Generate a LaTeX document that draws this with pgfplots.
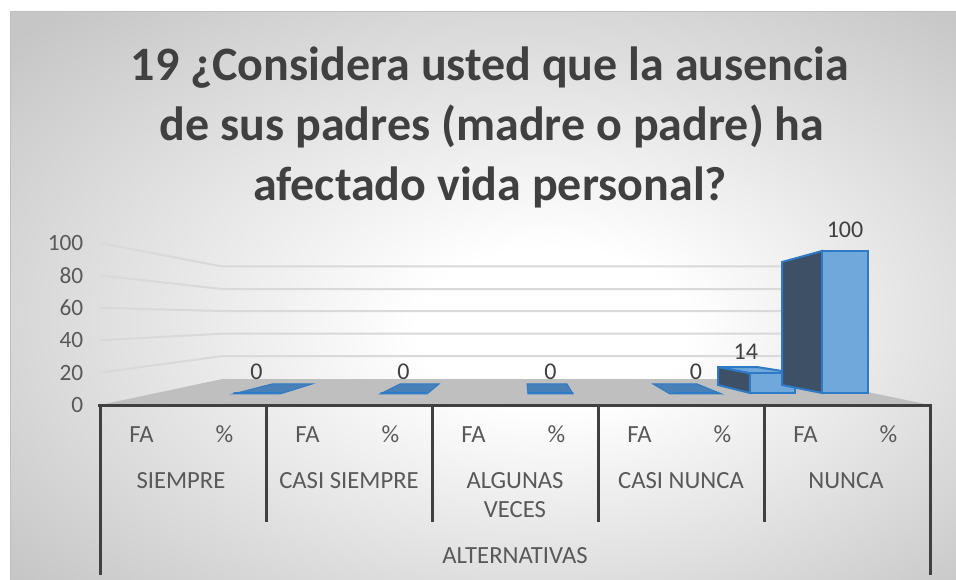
\documentclass[border=0pt]{standalone}
\usepackage{pgfplots}
\pgfplotsset{compat=1.18}
\usepackage{pgfplotstable}
\usepackage{fontspec}
\setmainfont{Carlito}
\definecolor{bggray}{RGB}{198,198,198}
\definecolor{bordergray}{RGB}{190,190,190}
\definecolor{titlegray}{RGB}{64,64,64}
\definecolor{textgray}{RGB}{89,89,89}
\definecolor{gridgray}{RGB}{217,217,217}
\definecolor{floorgray}{RGB}{191,191,191}
\definecolor{axisdark}{RGB}{64,64,64}
\definecolor{barblue}{RGB}{46,122,196}
\definecolor{frontfill}{RGB}{112,168,220}
\definecolor{darkface}{RGB}{62,80,102}
\definecolor{flatfill}{RGB}{74,128,184}
\pgfdeclareradialshading{chartbg}{\pgfpoint{4bp}{-3bp}}{color(0bp)=(white); color(7bp)=(white); color(35bp)=(bggray); color(50bp)=(bggray)}

% FA series (only NUNCA has a value); x = position of the bar in the perspective view
\pgfplotstableread{
x      v
7.602  14
}\fadata
% % series: SIEMPRE, CASI SIEMPRE, ALGUNAS VECES, CASI NUNCA, NUNCA
\pgfplotstableread{
x      v
1.386  0
3.157  0
4.928  0
6.681  0
8.476  100
}\pcdata

\begin{document}
\begin{tikzpicture}
\useasboundingbox (0,0) rectangle (717pt,434.25pt);
\begin{scope}[x=0.75pt,y=-0.75pt,shift={(0pt,434.25pt)}]
  \shade[shading=chartbg] (10,12) rectangle (962,585);
  \draw[bordergray, line width=0.75pt] (10,12) rectangle (962,585);
  \node[anchor=base, font=\fontsize{36}{43}\selectfont\bfseries, text=titlegray] at (490,81) {19 ¿Considera usted que la ausencia};
  \node[anchor=base, font=\fontsize{36}{43}\selectfont\bfseries, text=titlegray] at (492,141) {de sus padres (madre o padre) ha};
  \node[anchor=base, font=\fontsize{36}{43}\selectfont\bfseries, text=titlegray] at (490,201) {afectado vida personal?};
\end{scope}

\begin{axis}[
  scale only axis, width=622.5pt, height=121.5pt,
  at={(75pt,130.5pt)}, anchor=south west,
  xmin=-0.5, xmax=9.5, ymin=0, ymax=100,
  ytick={0,20,...,100}, xtick={0,...,9},
  xticklabels={FA,\%,FA,\%,FA,\%,FA,\%,FA,\%},
  axis line style={draw=none}, major tick length=0pt,
  tick label style={font=\fontsize{17.5}{20}\selectfont, text=textgray},
  xticklabel style={font=\fontsize{18.5}{21}\selectfont, anchor=base, yshift=-27.75pt},
  /pgf/number format/assume math mode=true,
  yticklabel style={xshift=-9pt},
  clip=false,
]
\fill[floorgray] (-0.5,0) -- (0.97,16.0) -- (7.994,16.0) -- (9.5,0) -- cycle;
\draw[gridgray, line width=1.5pt] (-0.5,20) -- (0.97,30.2) -- (7.994,30.2);
\draw[gridgray, line width=1.5pt] (-0.5,40) -- (0.97,44.0) -- (7.994,44.0);
\draw[gridgray, line width=1.5pt] (-0.5,60) -- (0.97,58.0) -- (7.994,58.0);
\draw[gridgray, line width=1.5pt] (-0.5,80) -- (0.97,71.6) -- (7.994,71.6);
\draw[gridgray, line width=1.5pt] (-0.5,100) -- (0.97,85.5) -- (7.994,85.5);
\end{axis}

\begin{axis}[
  scale only axis, width=622.5pt, height=121.5pt,
  at={(75pt,130.5pt)}, anchor=south west,
  xmin=-0.5, xmax=9.5, ymin=-8.451, ymax=105.634,
  hide axis, clip=false,
  /pgf/number format/assume math mode=true,
  every node near coord/.append style={font=\fontsize{18}{21}\selectfont, text=titlegray, yshift=6pt},
]
% flat tops of the zero bars
\addplot[fill=flatfill, draw=barblue, line width=0.75pt] coordinates {(1.102,-0.7) (1.669,-0.7) (2.054,6.34) (1.572,6.34)} -- cycle;
\addplot[fill=flatfill, draw=barblue, line width=0.75pt] coordinates {(2.873,-0.7) (3.440,-0.7) (3.584,6.34) (3.114,6.34)} -- cycle;
\addplot[fill=flatfill, draw=barblue, line width=0.75pt] coordinates {(4.657,-0.7) (5.199,-0.7) (5.127,6.34) (4.645,6.34)} -- cycle;
\addplot[fill=flatfill, draw=barblue, line width=0.75pt] coordinates {(6.367,-0.7) (6.994,-0.7) (6.693,6.34) (6.163,6.34)} -- cycle;
% 14 bar: side and top faces
\addplot[fill=darkface, draw=barblue, line width=1.5pt] coordinates {(6.946,18.3) (7.331,14) (7.331,0) (6.946,5.63)} -- cycle;
\addplot[fill=frontfill, draw=barblue, line width=1.5pt] coordinates {(6.946,18.3) (7.416,18.3) (7.873,14) (7.331,14)} -- cycle;
\addplot[ybar, bar width=0.55, bar shift=0pt, fill=frontfill, draw=barblue, line width=1.5pt,
  nodes near coords, every node near coord/.append style={xshift=-20pt}] table[x=x,y=v] {\fadata};
% 100 bar: side face
\addplot[fill=darkface, draw=barblue, line width=1.5pt] coordinates {(7.717,92.25) (8.199,100) (8.199,0) (7.717,5.63)} -- cycle;
\addplot[ybar, bar width=0.55, bar shift=0pt, fill=frontfill, draw=barblue, line width=1.5pt,
  nodes near coords] table[x=x,y=v] {\pcdata};
\end{axis}

\begin{scope}[x=0.75pt,y=-0.75pt,shift={(0pt,434.25pt)}]
  \draw[axisdark, line width=2.25pt] (98,405) -- (932,405);
  \foreach \xx in {266,432,598,764} \draw[axisdark, line width=2.25pt] (\xx,405) -- (\xx,522);
  \draw[axisdark, line width=2.25pt] (100,404) -- (100,575);
  \draw[axisdark, line width=2.25pt] (930,404) -- (930,575);
  \begin{scope}[every node/.style={anchor=base, font=\fontsize{18.5}{21}\selectfont, text=textgray}]
    \node at (181,488) {SIEMPRE};
    \node at (349,488) {CASI SIEMPRE};
    \node at (515,488) {ALGUNAS};
    \node at (515,517) {VECES};
    \node at (681,488) {CASI NUNCA};
    \node at (846,488) {NUNCA};
    \node at (515,563) {ALTERNATIVAS};
  \end{scope}
\end{scope}
\end{tikzpicture}
\end{document}
